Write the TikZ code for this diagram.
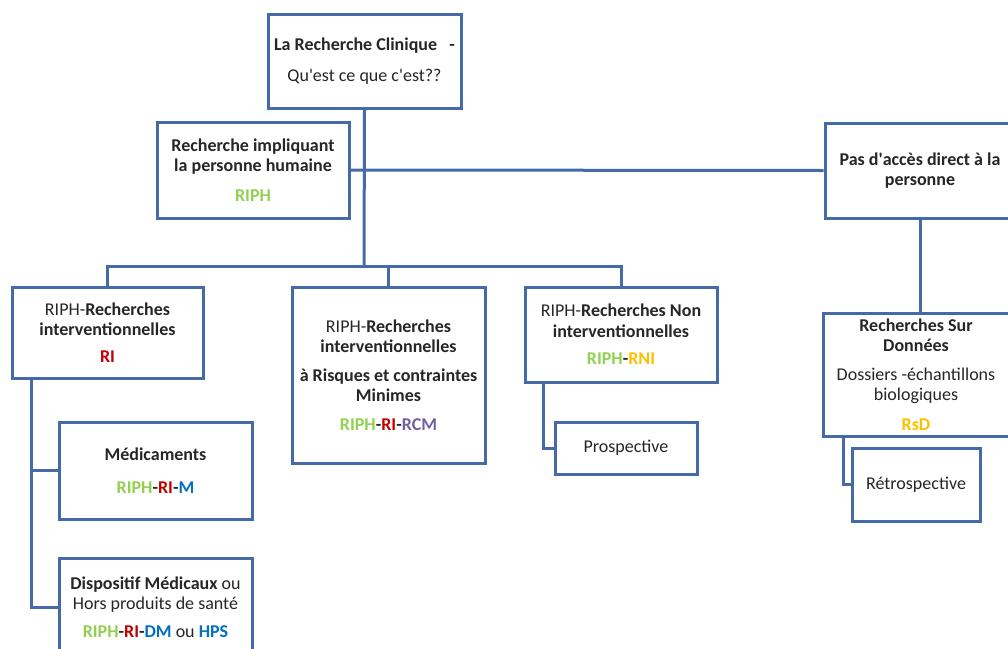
\documentclass[tikz,border=0pt]{standalone}
\usepackage{fontspec}
\setmainfont{Carlito}
\definecolor{linkblue}{RGB}{68,106,168}
\definecolor{codegreen}{RGB}{146,208,80}
\definecolor{codered}{RGB}{192,0,0}
\definecolor{codeblue}{RGB}{0,112,192}
\definecolor{codeorange}{RGB}{255,192,0}
\definecolor{codepurple}{RGB}{112,96,160}
\definecolor{textgray}{RGB}{38,38,38}
\newcommand{\riph}{\textcolor{codegreen}{RIPH}}
\newcommand{\rired}{\textcolor{codered}{RI}}
\newcommand{\sep}{\textcolor{textgray}{-}}
\newcommand{\q}{\textquotesingle}
\tikzset{
  box/.style      = {shape=rectangle, draw=linkblue, line width=3pt,
                     fill=white, align=center, inner sep=2pt,
                     text=textgray, font=\fontsize{18}{20.5}\selectfont},
  bigbox/.style   = {box, minimum width=193pt, minimum height=95pt},
  smallbox/.style = {box, minimum height=52pt},
  link/.style     = {draw=linkblue, line width=3pt}
}
\begin{document}
\begin{tikzpicture}[x=1pt, y=-1pt]
\useasboundingbox (0,0) rectangle (1008,648);
\clip (0,0) rectangle (1008,648);
\fill[white] (0,0) rectangle (1008,648);

% upper level
\node [bigbox, minimum height=94pt] (top) at (364.5,61)
  {\textbf{La Recherche Clinique \ \ -}\\[10pt]Qu\q est ce que c\q est??};
\node [bigbox, minimum width=192pt, minimum height=96pt] (riph) at (253,170)
  {\textbf{Recherche impliquant}\\\textbf{la personne humaine}\\[9pt]\textbf{\riph}};
\node [bigbox, minimum width=190pt] (pas) at (920,170.5)
  {\textbf{Pas d\q accès direct à la}\\\textbf{personne}};

% RIPH branches
\node [bigbox, minimum width=191pt, minimum height=91pt] (ri) at (107.5,332.5)
  {RIPH-\textbf{Recherches}\\\textbf{interventionnelles}\\[6pt]\textbf{\rired}};
\node [bigbox, minimum height=176pt] (rcm) at (388.5,375)
  {RIPH-\textbf{Recherches}\\\textbf{interventionnelles}\\[8pt]\textbf{à Risques et contraintes}\\\textbf{Minimes}\\[8pt]%
   \textbf{\riph\sep\rired\sep\textcolor{codepurple}{RCM}}};
\node [bigbox, minimum width=192pt] (rni) at (621,334.5)
  {RIPH-\textbf{Recherches Non}\\\textbf{interventionnelles}\\[7pt]\textbf{\riph\sep\textcolor{codeorange}{RNI}}};
\node [smallbox, minimum width=142pt] (pro) at (626,448) {Prospective};

% RI branches
\node [bigbox, minimum height=97pt] (med) at (155.5,470.5)
  {\textbf{Médicaments}\\[12pt]\textbf{\riph\sep\rired\sep\textcolor{codeblue}{M}}};
\node [bigbox, minimum height=98pt] (dm) at (155.5,607)
  {\textbf{Dispositif Médicaux} ou\\Hors produits de santé\\[7pt]%
   \textbf{\riph\sep\rired\sep\textcolor{codeblue}{DM}} ou \textbf{\textcolor{codeblue}{HPS}}};

% data branch
\node [bigbox, minimum width=186pt, minimum height=123pt] (rsd) at (916,374.5)
  {\textbf{Recherches Sur}\\\textbf{Données}\\[8pt]Dossiers -échantillons\\biologiques\\[9pt]\textbf{\textcolor{codeorange}{RsD}}};
\node [smallbox, minimum width=128pt, minimum height=73pt] (retro) at (916,484.5) {Rétrospective};

% connectors
\coordinate (bus) at (364,266);
\draw [link] (top.south) -- (bus);
\draw [link] (riph.east) -- (pas.west);
\draw [link] (ri.north) |- (bus) -| (rni.north);
\draw [link] (rcm.north) -- (rcm.north |- bus);
\draw [link] (pas.south) -- (pas.south |- rsd.north);
\draw [link] ([xshift=21pt]ri.south west) |- (med.west);
\draw [link] ([xshift=21pt]ri.south west) |- (dm.west);
\draw [link] ([xshift=20pt]rni.south west) |- (pro.west);
\draw [link] ([xshift=22pt]rsd.south west) |- (retro.west);

\end{tikzpicture}
\end{document}
